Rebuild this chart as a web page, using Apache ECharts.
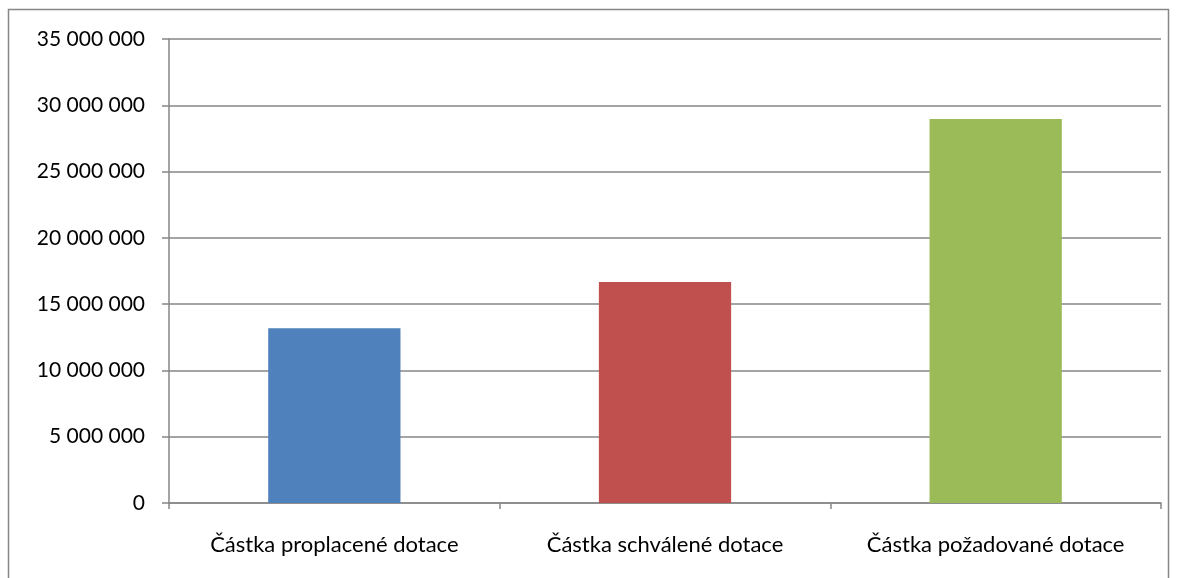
<!DOCTYPE html>
<html>
<head>
<meta charset="utf-8">
<script src="https://cdn.jsdelivr.net/npm/echarts@6/dist/echarts.min.js"></script>
<style>
    html, body { margin: 0; padding: 0; background: #fff; }
    #chart { width: 1179px; height: 578px; }
</style>
</head>
<body>
<div id="chart"></div>
<script>
var categories = ['Částka proplacené dotace', 'Částka schválené dotace', 'Částka požadované dotace'];
var amounts = [13180000, 16670000, 28970000];
var barColors = ['#4f81bd', '#c0504d', '#9bbb59'];

function fmt(v) {
    return String(v).replace(/\B(?=(\d{3})+(?!\d))/g, ' ');
}

var dom = document.getElementById('chart');
var myChart = echarts.init(dom, null, { renderer: 'canvas' });

var option = {
    animation: false,
    textStyle: { fontFamily: 'Lato' },
    graphic: [{
        type: 'rect',
        shape: { x: 8.5, y: 9.5, width: 1160, height: 600 },
        style: { fill: 'none', stroke: '#868686', lineWidth: 1.5 }
    }],
    grid: { left: 169, right: 18, top: 39, bottom: 75 },
    xAxis: {
        type: 'category',
        data: categories,
        axisLine: { lineStyle: { color: '#868686', width: 1.5 } },
        axisTick: { show: true, interval: 0, length: 6, alignWithLabel: false, lineStyle: { color: '#868686', width: 1.5 } },
        axisLabel: { color: '#000', fontSize: 22, margin: 31, interval: 0, hideOverlap: false }
    },
    yAxis: {
        type: 'value',
        min: 0,
        max: 35000000,
        interval: 5000000,
        axisLine: { show: true, lineStyle: { color: '#868686', width: 1.5 } },
        axisTick: { show: true, length: 7, lineStyle: { color: '#868686', width: 1.5 } },
        splitLine: { lineStyle: { color: '#868686', width: 1.5 } },
        axisLabel: { color: '#000', fontSize: 21, margin: 24, formatter: fmt }
    },
    series: [{
        type: 'bar',
        barWidth: '40%',
        data: amounts.map(function (v, i) {
            return { value: v, itemStyle: { color: barColors[i] } };
        })
    }]
};

myChart.setOption(option);
</script>
</body>
</html>
